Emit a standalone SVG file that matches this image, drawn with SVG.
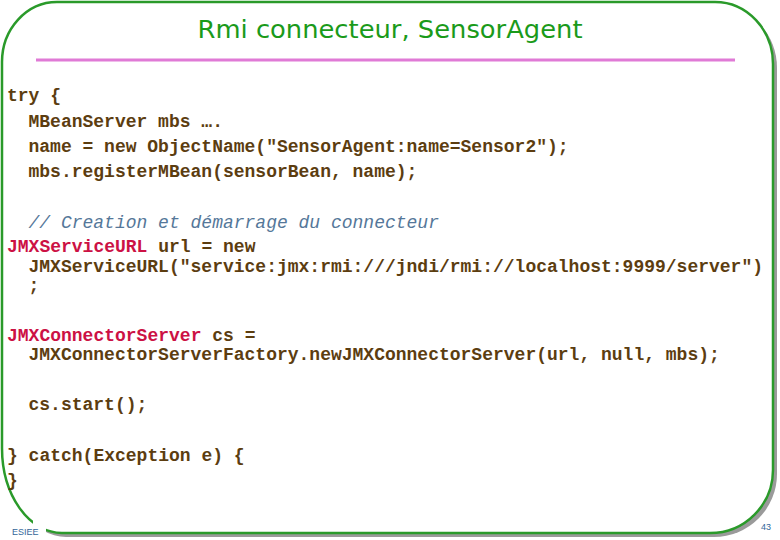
<svg xmlns="http://www.w3.org/2000/svg" width="780" height="540" viewBox="0 0 780 540">
  <defs>
    <style>
      .code { font-family: "Liberation Mono", "DejaVu Sans Mono", monospace; font-size: 18px; font-weight: bold; fill: #5c3d10; white-space: pre; }
      .kw { fill: #cc1144; }
      .cmt { font-weight: normal; font-style: italic; fill: #557799; }
      .foot { font-family: "Liberation Sans", Arial, sans-serif; font-size: 9px; fill: #336699; }
    </style>
    <path id="frame" d="M 57 2 L 715 2 A 58 62 0 0 1 773 64 L 773 470 A 63 63 0 0 1 710 533 L 62 533 A 60 85 0 0 1 2 448 L 2 62 A 55 60 0 0 1 57 2 Z"/>
  </defs>
  <rect width="780" height="540" fill="#ffffff"/>
  <g id="frame-box">
    <use href="#frame" transform="translate(4,4)" fill="#9a9a9a"/>
    <use href="#frame" fill="#ffffff" stroke="#2a9a2a" stroke-width="2.5"/>
    <rect x="33" y="514" width="13" height="26" fill="#ffffff"/>
  </g>
  <g id="title">
    <text x="390" y="38" text-anchor="middle" font-family="DejaVu Sans, sans-serif" font-size="25" fill="#1a9a1a" textLength="385" lengthAdjust="spacingAndGlyphs">Rmi connecteur, SensorAgent</text>
    <line x1="36" y1="60" x2="735" y2="60" stroke="#e07ad6" stroke-width="3"/>
  </g>
  <g id="code">
    <text class="code" x="7" y="101">try {</text>
    <text class="code" x="28.5" y="127">MBeanServer mbs ….</text>
    <text class="code" x="28.5" y="152">name = new ObjectName("SensorAgent:name=Sensor2");</text>
    <text class="code" x="28.5" y="177">mbs.registerMBean(sensorBean, name);</text>
    <text class="code cmt" x="28.5" y="228">// Creation et démarrage du connecteur</text>
    <text class="code" x="7" y="252"><tspan class="kw">JMXServiceURL</tspan> url = new</text>
    <text class="code" x="28.5" y="272">JMXServiceURL("service:jmx:rmi:///jndi/rmi://localhost:9999/server")</text>
    <text class="code" x="28.5" y="291">;</text>
    <text class="code" x="7" y="341"><tspan class="kw">JMXConnectorServer</tspan> cs =</text>
    <text class="code" x="28.5" y="360">JMXConnectorServerFactory.newJMXConnectorServer(url, null, mbs);</text>
    <text class="code" x="28.5" y="410">cs.start();</text>
    <text class="code" x="7" y="461">} catch(Exception e) {</text>
    <text class="code" x="7" y="486">}</text>
  </g>
  <g id="footer">
    <text class="foot" x="12" y="535">ESIEE</text>
    <text class="foot" x="761" y="530">43</text>
  </g>
</svg>
